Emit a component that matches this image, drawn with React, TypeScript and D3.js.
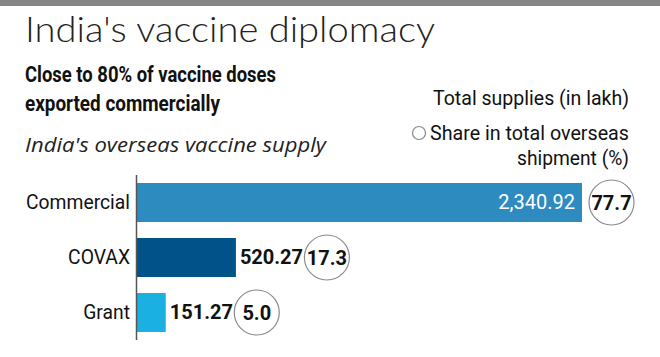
import React from "react";
import * as d3 from "d3";

const categories = ["Commercial", "COVAX", "Grant"];
const supplies = [2340.92, 520.27, 151.27];
const shares = [77.7, 17.3, 5.0];
const barColors = ["#2e8bc0", "#005288", "#1bb0e2"];

const W = 660;
const H = 357;
const COND = "Roboto, 'Noto Sans', sans-serif";

export default function App() {
  const x = d3.scaleLinear().domain([0, d3.max(supplies) as number]).range([137, 582]);
  const y = d3.scaleBand<string>().domain(categories).range([175, 340]).paddingInner(16 / 55).paddingOuter(8 / 55);
  const fmtVal = d3.format(",.2f");
  const fmtShare = d3.format(".1f");

  return (
    <svg width={W} height={H} style={{ position: "absolute", left: 0, top: 0, background: "#fff" }}>
      <rect x={0} y={0} width={W} height={6} fill="#868686" />
      <text x={25} y={42} fontFamily="Lato, 'Open Sans', sans-serif" fontWeight={300} fontSize={35} fill="#222"
        textLength={410} lengthAdjust="spacingAndGlyphs">India's vaccine diplomacy</text>
      <text x={25} y={81.5} fontFamily={COND} fontWeight={700} fontSize={22} fill="#111"
        textLength={251} lengthAdjust="spacingAndGlyphs">Close to 80% of vaccine doses</text>
      <text x={25} y={111} fontFamily={COND} fontWeight={700} fontSize={22} fill="#111"
        textLength={195} lengthAdjust="spacingAndGlyphs">exported commercially</text>
      <text x={25} y={152} fontFamily="'Open Sans', 'Noto Sans', sans-serif" fontStyle="italic" fontSize={20} fill="#222"
        textLength={301} lengthAdjust="spacingAndGlyphs">India's overseas vaccine supply</text>

      <text x={629} y={105} textAnchor="end" fontFamily={COND} fontSize={20} fill="#111"
        textLength={196} lengthAdjust="spacingAndGlyphs">Total supplies (in lakh)</text>
      <circle cx={419} cy={133} r={6.5} fill="#fff" stroke="#888" strokeWidth={1.2} />
      <text x={629} y={140} textAnchor="end" fontFamily={COND} fontSize={20} fill="#111"
        textLength={199} lengthAdjust="spacingAndGlyphs">Share in total overseas</text>
      <text x={629} y={165} textAnchor="end" fontFamily={COND} fontSize={20} fill="#111"
        textLength={112} lengthAdjust="spacingAndGlyphs">shipment (%)</text>

      {categories.map((c, i) => {
        const y0 = y(c) as number;
        const bw = y.bandwidth();
        const xe = x(supplies[i]);
        const inside = xe - x(0) > 150;
        const cy = y0 + bw / 2;
        const cx = inside ? xe + 29.5 : xe + 91;
        return (
          <g key={c}>
            <rect x={x(0)} y={y0} width={xe - x(0)} height={bw} fill={barColors[i]} />
            <text transform={`translate(130,${cy + 6.5}) scale(0.92,1)`} textAnchor="end" fontFamily={COND}
              fontSize={21} fill="#111">{c}</text>
            <text x={inside ? xe - 7 : xe + 4} y={cy + 6.5} textAnchor={inside ? "end" : "start"}
              fontFamily={COND} fontSize={20} fontWeight={inside ? 400 : 700}
              fill={inside ? "#fff" : "#111"}>{fmtVal(supplies[i])}</text>
            <circle cx={cx} cy={cy} r={22.5} fill="#fff" stroke="#8a8a8a" strokeWidth={1.2} />
            <text x={cx} y={cy + 7} textAnchor="middle" fontFamily={COND} fontSize={20} fontWeight={700} fill="#111">
              {fmtShare(shares[i])}
            </text>
          </g>
        );
      })}
      <line x1={136.5} x2={136.5} y1={y.range()[0]} y2={y.range()[1]} stroke="#555" strokeWidth={1.5} />
    </svg>
  );
}
